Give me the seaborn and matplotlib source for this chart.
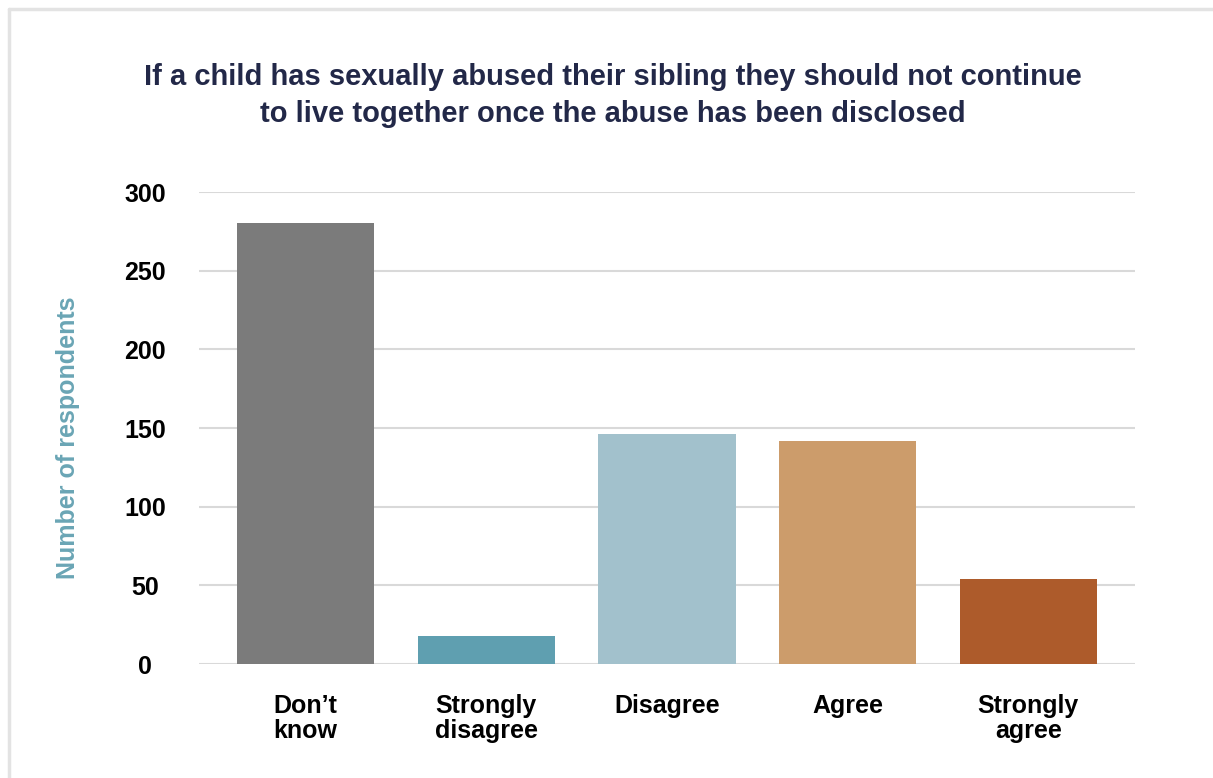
import matplotlib
matplotlib.use("Agg")
import matplotlib.pyplot as plt
from matplotlib.lines import Line2D
import seaborn as sns
import pandas as pd

# Survey responses
categories = ["Don\u2019t\nknow", "Strongly\ndisagree", "Disagree", "Agree", "Strongly\nagree"]
respondents = [280, 18, 146, 142, 54]
bar_colors = ["#7b7b7b", "#5f9fb0", "#a2c1cc", "#cc9c6b", "#ad5b2b"]
y_ticks = [0, 50, 100, 150, 200, 250, 300]

title = ("If a child has sexually abused their sibling they should not continue\n"
         "to live together once the abuse has been disclosed")

sns.set_theme(style="white")
plt.rcParams["font.family"] = ["Liberation Sans", "DejaVu Sans"]

df = pd.DataFrame({"category": categories, "count": respondents})

fig = plt.figure(figsize=(12.13, 7.78), dpi=100)
fig.patch.set_facecolor("white")
W, H = 1213, 778
ax = fig.add_axes([199 / W, 1 - 664 / H, 936 / W, 472 / H])

sns.barplot(data=df, x="category", y="count", hue="category",
            palette=bar_colors, width=0.76, saturation=1, legend=False,
            linewidth=0, ax=ax, zorder=3)

ax.set_ylim(0, 300)
ax.set_xlim(-0.59, 4.59)
ax.set_yticks(y_ticks)
ax.yaxis.grid(True, color="#d9d9d9", linewidth=1.5, zorder=0)
ax.xaxis.grid(False)
for s in ax.spines.values():
    s.set_visible(False)

ax.set_xlabel("")
ax.set_ylabel("")
ax.tick_params(axis="y", length=0, pad=39, labelsize=18, labelcolor="black")
ax.tick_params(axis="x", length=0, pad=21.5, labelsize=18, labelcolor="black")
for lbl in ax.get_yticklabels():
    lbl.set_fontweight("bold")
    lbl.set_ha("center")
for lbl in ax.get_xticklabels():
    lbl.set_fontweight("bold")
    lbl.set_linespacing(1.05)
    lbl.set_va("top")

fig.text(68 / W, 1 - 438 / H, "Number of respondents", rotation=90,
         ha="center", va="center", fontsize=18, fontweight="bold",
         color="#6aa5b5")

fig.text(613 / W, 1 - 95.5 / H, title, ha="center", va="center",
         fontsize=21, fontweight="bold", color="#222848", linespacing=1.4)

# Light frame around the chart area
fig.add_artist(Line2D([9 / W, 9 / W], [0, 1 - 9 / H], transform=fig.transFigure,
                      color="#e3e3e3", linewidth=2.5))
fig.add_artist(Line2D([9 / W, 1], [1 - 9 / H, 1 - 9 / H], transform=fig.transFigure,
                      color="#e3e3e3", linewidth=2.5))

fig.savefig("out.png", dpi=100, facecolor="white")
